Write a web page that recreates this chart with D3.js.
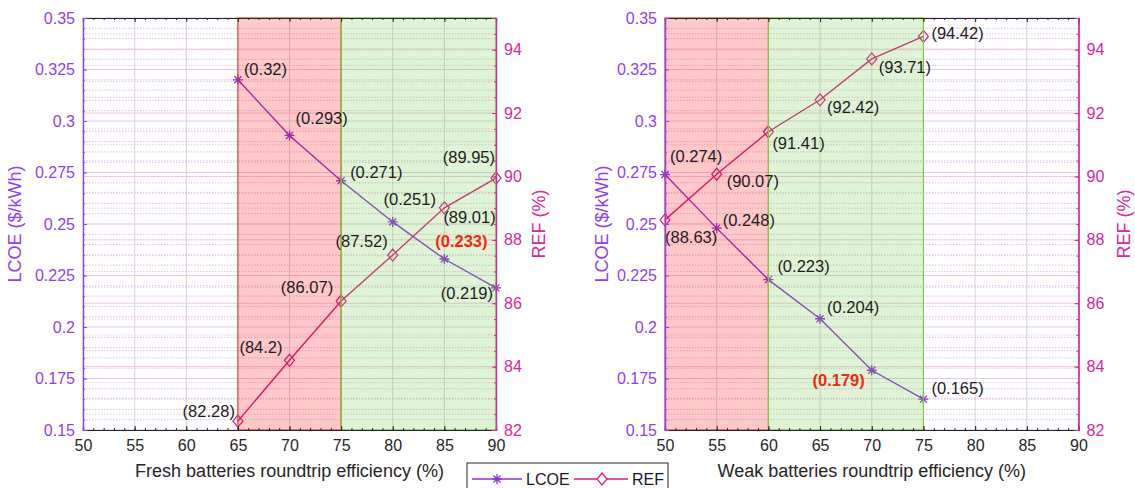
<!DOCTYPE html>
<html><head><meta charset="utf-8">
<script src="https://cdn.jsdelivr.net/npm/d3@7"></script>
<style>body{margin:0;background:#fff}svg{display:block;font-family:"Liberation Sans",Arial,sans-serif}</style>
</head><body><svg id="c" width="1135" height="488"></svg>
<script>
// ---------- DATA ----------
const freshEff = [65, 70, 75, 80, 85, 90];
const freshLCOE = [0.32, 0.293, 0.271, 0.251, 0.233, 0.219];
const freshREF = [82.28, 84.2, 86.07, 87.52, 89.01, 89.95];
const weakEff = [50, 55, 60, 65, 70, 75];
const weakLCOE = [0.274, 0.248, 0.223, 0.204, 0.179, 0.165];
const weakREF = [88.63, 90.07, 91.41, 92.42, 93.71, 94.42];
const xTickValues = [50, 55, 60, 65, 70, 75, 80, 85, 90];
const lcoeTickValues = [0.15, 0.175, 0.2, 0.225, 0.25, 0.275, 0.3, 0.325, 0.35];
const lcoeTickLabels = ["0.15", "0.175", "0.2", "0.225", "0.25", "0.275", "0.3", "0.325", "0.35"];
const refTickValues = [82, 84, 86, 88, 90, 92, 94];
const xTitles = ["Fresh batteries roundtrip efficiency (%)", "Weak batteries roundtrip efficiency (%)"];
const freshRedZone = [65, 75], freshGreenZone = [75, 90];
const weakRedZone = [50, 60], weakGreenZone = [60, 75];
const freshBest = 4, weakBest = 4; // highlighted LCOE index
const seriesNames = ["LCOE", "REF"];

// ---------- LAYOUT / STYLE ----------
const C_LCOE_AX = "#8f3ff0", C_LCOE = "#8a33d6";
const C_REF_AX = "#d4289c", C_REF = "#da1a82";
const svg = d3.select("#c");

// label placements [anchor, dx, dy(center)]
const freshLcoePos = [["start",6,-11],["start",6,-17],["start",9,-9],["middle",17,-23],["middle",17,-18],["end",-3,5]];
const freshRefPos = [["end",-3,-10],["end",-7,-13],["end",-8,-14],["end",-5,-14],["start",-1,9],["end",-1,-21]];
const weakLcoePos = [["start",5,-19],["start",6,-8],["start",9,-14],["start",7,-12],["end",-7,10],["start",8,-11]];
const weakRefPos = [["start",0,17],["start",10,7],["start",4,11],["start",7,7],["start",7,8],["start",8,-3]];

function panel(cfg) {
  const {left, right, top, bottom} = cfg;
  const x = d3.scaleLinear().domain([50, 90]).range([left, right]);
  const yL = d3.scaleLinear().domain([0.15, 0.35]).range([bottom, top]);
  const yR = d3.scaleLinear().domain([82, 95]).range([bottom, top]);
  const g = svg.append("g");

  // grids
  const grid = g.append("g");
  grid.selectAll(".vg").data(xTickValues).join("line")
    .attr("x1", d => x(d)).attr("x2", d => x(d)).attr("y1", top).attr("y2", bottom)
    .attr("stroke", "#d6d6d6").attr("stroke-width", 1);
  const lMinor = d3.range(0.15, 0.3501, 0.005).filter(v => Math.abs(Math.round(v / 0.025) * 0.025 - v) > 1e-6);
  grid.selectAll(".lmin").data(lMinor).join("line")
    .attr("x1", left).attr("x2", right).attr("y1", d => yL(d)).attr("y2", d => yL(d))
    .attr("stroke", "#c9b0f0").attr("stroke-width", 0.8).attr("stroke-dasharray", "1.5,1.5");
  const rMinor = d3.range(82, 95.01, 0.5).filter(v => Math.abs(v - Math.round(v / 2) * 2) > 1e-6);
  grid.selectAll(".rmin").data(rMinor).join("line")
    .attr("x1", left).attr("x2", right).attr("y1", d => yR(d)).attr("y2", d => yR(d))
    .attr("stroke", "#efb6d8").attr("stroke-width", 0.8).attr("stroke-dasharray", "1.5,1.5");
  grid.selectAll(".lmaj").data(lcoeTickValues).join("line")
    .attr("x1", left).attr("x2", right).attr("y1", d => yL(d)).attr("y2", d => yL(d))
    .attr("stroke", "#dccbf3").attr("stroke-width", 1);
  grid.selectAll(".rmaj").data(refTickValues).join("line")
    .attr("x1", left).attr("x2", right).attr("y1", d => yR(d)).attr("y2", d => yR(d))
    .attr("stroke", "#f0c8e0").attr("stroke-width", 1);

  // lines
  const lineL = d3.line().x((d, i) => x(cfg.eff[i])).y(d => yL(d));
  const lineR = d3.line().x((d, i) => x(cfg.eff[i])).y(d => yR(d));
  g.append("path").attr("d", lineL(cfg.lcoe)).attr("fill", "none").attr("stroke", C_LCOE).attr("stroke-width", 1.4);
  g.append("path").attr("d", lineR(cfg.ref)).attr("fill", "none").attr("stroke", C_REF).attr("stroke-width", 1.4);
  // markers
  const ast = 5;
  cfg.lcoe.forEach((v, i) => {
    const cx = x(cfg.eff[i]), cy = yL(v);
    const p = `M${cx-ast},${cy}L${cx+ast},${cy}M${cx},${cy-ast}L${cx},${cy+ast}` +
      `M${cx-ast*0.7},${cy-ast*0.7}L${cx+ast*0.7},${cy+ast*0.7}M${cx-ast*0.7},${cy+ast*0.7}L${cx+ast*0.7},${cy-ast*0.7}`;
    g.append("path").attr("d", p).attr("stroke", C_LCOE).attr("stroke-width", 1.3).attr("fill", "none");
  });
  cfg.ref.forEach((v, i) => {
    const cx = x(cfg.eff[i]), cy = yR(v);
    g.append("path").attr("d", `M${cx},${cy-6}L${cx+5},${cy}L${cx},${cy+6}L${cx-5},${cy}Z`)
      .attr("stroke", C_REF).attr("stroke-width", 1.2).attr("fill", "none");
  });

  // zones (overlay, semi-transparent)
  g.append("rect").attr("x", x(cfg.red[0])).attr("y", top).attr("width", x(cfg.red[1]) - x(cfg.red[0])).attr("height", bottom - top)
    .attr("fill", "#ff0000").attr("fill-opacity", 0.21).attr("stroke", "#e83030").attr("stroke-width", 1);
  g.append("rect").attr("x", x(cfg.green[0])).attr("y", top).attr("width", x(cfg.green[1]) - x(cfg.green[0])).attr("height", bottom - top)
    .attr("fill", "#66cc33").attr("fill-opacity", 0.21).attr("stroke", "#7acc3c").attr("stroke-width", 1.2);

  // data labels (above zones)
  const lab = g.append("g").attr("font-size", "16.5px");
  cfg.lcoe.forEach((v, i) => {
    const [a, dx, dy] = cfg.lcoePos[i];
    const best = i === cfg.best;
    lab.append("text").attr("x", x(cfg.eff[i]) + dx).attr("y", yL(v) + dy)
      .attr("text-anchor", a).attr("dominant-baseline", "central")
      .attr("fill", best ? "#ee2a0c" : "#1c1c1c").attr("font-weight", best ? "bold" : "normal")
      .text("(" + v + ")");
  });
  cfg.ref.forEach((v, i) => {
    const [a, dx, dy] = cfg.refPos[i];
    lab.append("text").attr("x", x(cfg.eff[i]) + dx).attr("y", yR(v) + dy)
      .attr("text-anchor", a).attr("dominant-baseline", "central")
      .attr("fill", "#1c1c1c").text("(" + v + ")");
  });

  // axes
  const fs = "16px";
  const xb = g.append("g").attr("transform", `translate(0,${bottom})`)
    .call(d3.axisBottom(x).tickValues(xTickValues).tickSize(-4).tickPadding(10).tickFormat(d3.format("d")));
  const xbm = g.append("g").attr("transform", `translate(0,${bottom})`)
    .call(d3.axisBottom(x).tickValues(d3.range(50, 91, 1)).tickSize(-2).tickFormat(""));
  const xt = g.append("g").attr("transform", `translate(0,${top})`)
    .call(d3.axisTop(x).tickValues(xTickValues).tickSize(-4).tickFormat(""));
  const xtm = g.append("g").attr("transform", `translate(0,${top})`)
    .call(d3.axisTop(x).tickValues(d3.range(50, 91, 1)).tickSize(-2).tickFormat(""));
  [xb, xbm, xt, xtm].forEach(a => {
    a.select(".domain").attr("stroke", "#262626").attr("stroke-width", 1.2);
    a.selectAll(".tick line").attr("stroke", "#262626");
    a.selectAll("text").attr("font-size", fs).attr("fill", "#262626").attr("font-family", "Liberation Sans, Arial, sans-serif");
  });
  const ya = g.append("g").attr("transform", `translate(${left},0)`)
    .call(d3.axisLeft(yL).tickValues(lcoeTickValues).tickSize(-4).tickPadding(8).tickFormat((d, i) => lcoeTickLabels[i]));
  const yam = g.append("g").attr("transform", `translate(${left},0)`)
    .call(d3.axisLeft(yL).tickValues(d3.range(0.15, 0.3501, 0.005)).tickSize(-2).tickFormat(""));
  [ya, yam].forEach(a => {
    a.select(".domain").attr("stroke", C_LCOE_AX).attr("stroke-width", 1.2);
    a.selectAll(".tick line").attr("stroke", C_LCOE_AX);
    a.selectAll("text").attr("font-size", fs).attr("fill", C_LCOE_AX).attr("font-family", "Liberation Sans, Arial, sans-serif");
  });
  const yr = g.append("g").attr("transform", `translate(${right},0)`)
    .call(d3.axisRight(yR).tickValues(refTickValues).tickSize(-4).tickPadding(8).tickFormat(d3.format("d")));
  const yrm = g.append("g").attr("transform", `translate(${right},0)`)
    .call(d3.axisRight(yR).tickValues(d3.range(82, 95.01, 0.5)).tickSize(-2).tickFormat(""));
  [yr, yrm].forEach(a => {
    a.select(".domain").attr("stroke", C_REF_AX).attr("stroke-width", 1.2);
    a.selectAll(".tick line").attr("stroke", C_REF_AX);
    a.selectAll("text").attr("font-size", fs).attr("fill", C_REF_AX).attr("font-family", "Liberation Sans, Arial, sans-serif");
  });

  // titles
  g.append("text").attr("x", (left + right) / 2).attr("y", 471).attr("text-anchor", "middle")
    .attr("dominant-baseline", "central").attr("font-size", "18px").attr("fill", "#262626").text(cfg.title);
  g.append("text").attr("transform", `translate(${cfg.lTitleX},${(top + bottom) / 2}) rotate(-90)`)
    .attr("text-anchor", "middle").attr("dominant-baseline", "central").attr("font-size", "18px")
    .attr("fill", C_LCOE_AX).text("LCOE ($/kWh)");
  g.append("text").attr("transform", `translate(${cfg.rTitleX},${(top + bottom) / 2}) rotate(-90)`)
    .attr("text-anchor", "middle").attr("dominant-baseline", "central").attr("font-size", "18px")
    .attr("fill", C_REF_AX).text("REF (%)");
}

panel({left: 83, right: 496, top: 18, bottom: 430, eff: freshEff, lcoe: freshLCOE, ref: freshREF,
  red: freshRedZone, green: freshGreenZone, best: freshBest, lcoePos: freshLcoePos, refPos: freshRefPos,
  title: xTitles[0], lTitleX: 15, rTitleX: 539});
panel({left: 665, right: 1078.5, top: 18, bottom: 430, eff: weakEff, lcoe: weakLCOE, ref: weakREF,
  red: weakRedZone, green: weakGreenZone, best: weakBest, lcoePos: weakLcoePos, refPos: weakRefPos,
  title: xTitles[1], lTitleX: 602, rTitleX: 1124});

// legend
const lg = svg.append("g");
lg.append("rect").attr("x", 467).attr("y", 463).attr("width", 201).attr("height", 30)
  .attr("fill", "#fff").attr("stroke", "#262626").attr("stroke-width", 1);
const lgY = 479;
lg.append("line").attr("x1", 472).attr("x2", 522).attr("y1", lgY).attr("y2", lgY).attr("stroke", C_LCOE).attr("stroke-width", 1.4);
{
  const cx = 497, cy = lgY, a = 5;
  lg.append("path").attr("d", `M${cx-a},${cy}L${cx+a},${cy}M${cx},${cy-a}L${cx},${cy+a}M${cx-a*0.7},${cy-a*0.7}L${cx+a*0.7},${cy+a*0.7}M${cx-a*0.7},${cy+a*0.7}L${cx+a*0.7},${cy-a*0.7}`)
    .attr("stroke", C_LCOE).attr("stroke-width", 1.3);
}
lg.append("text").attr("x", 526).attr("y", lgY).attr("dominant-baseline", "central").attr("font-size", "16px").attr("fill", "#1a1a1a").text(seriesNames[0]);
lg.append("line").attr("x1", 574).attr("x2", 628).attr("y1", lgY).attr("y2", lgY).attr("stroke", C_REF).attr("stroke-width", 1.4);
lg.append("path").attr("d", `M602,${lgY-6}L607,${lgY}L602,${lgY+6}L597,${lgY}Z`).attr("stroke", C_REF).attr("stroke-width", 1.2).attr("fill", "#fff");
lg.append("text").attr("x", 632).attr("y", lgY).attr("dominant-baseline", "central").attr("font-size", "16px").attr("fill", "#1a1a1a").text(seriesNames[1]);
</script></body></html>
